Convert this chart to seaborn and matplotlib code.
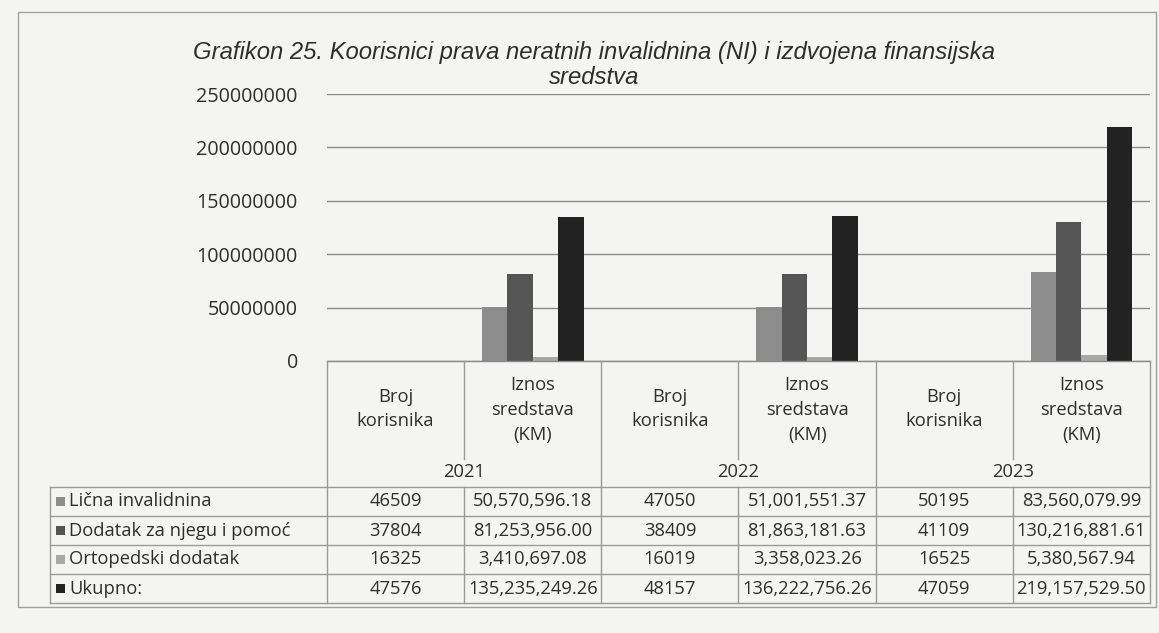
import numpy as np
import pandas as pd
import matplotlib
matplotlib.use("Agg")
import matplotlib.pyplot as plt
from matplotlib.lines import Line2D
from matplotlib.patches import Rectangle
import seaborn as sns

# ---- data -------------------------------------------------------------
years = ["2021", "2022", "2023"]
measures = ["Broj\nkorisnika", "Iznos\nsredstava\n(KM)"]
series = ["Lična invalidnina", "Dodatak za njegu i pomoć", "Ortopedski dodatak", "Ukupno:"]

licna = [46509, 50570596.18, 47050, 51001551.37, 50195, 83560079.99]
dodatak = [37804, 81253956.00, 38409, 81863181.63, 41109, 130216881.61]
ortopedski = [16325, 3410697.08, 16019, 3358023.26, 16525, 5380567.94]
ukupno = [47576, 135235249.26, 48157, 136222756.26, 47059, 219157529.50]

yticks = [0, 50000000, 100000000, 150000000, 200000000, 250000000]
title_lines = ["Grafikon 25. Koorisnici prava neratnih invalidnina (NI) i izdvojena finansijska",
               "sredstva"]

colors = ["#8c8c8c", "#555555", "#a8a8a8", "#222222"]

# ---- long-form table for seaborn ----------------------------------------
cols = [f"{y}|{m}" for y in years for m in measures]
values = [licna, dodatak, ortopedski, ukupno]
df = pd.DataFrame(
    [(c, s, v) for s, vals in zip(series, values) for c, v in zip(cols, vals)],
    columns=["kolona", "serija", "vrijednost"],
)

def fmt_count(v):
    return f"{int(round(v))}"

def fmt_money(v):
    return f"{v:,.2f}"

# ---- figure -----------------------------------------------------------
W, H = 1159, 633
bg = "#f4f4f2"
ink = "#2e2e2e"
line_c = "#9a9a9a"

fig = plt.figure(figsize=(W / 100, H / 100), dpi=100, facecolor=bg)

def fx(px):
    return px / W

def fy(py):
    return 1 - py / H

ax_l, ax_r, ax_t, ax_b = 327, 1150, 94, 361
ax = fig.add_axes([fx(ax_l), fy(ax_b), fx(ax_r - ax_l), fy(ax_t) - fy(ax_b)])
ax.set_facecolor(bg)

sns.barplot(
    data=df, x="kolona", y="vrijednost", hue="serija", order=cols,
    hue_order=series, palette=colors, saturation=1, width=0.74,
    legend=False, ax=ax, linewidth=0,
)
ax.set_xlim(-0.5, len(cols) - 0.5)
ax.set_ylim(0, yticks[-1])
ax.set_yticks(yticks)
ax.set_yticklabels([str(t) for t in yticks], fontfamily="Open Sans",
                   fontsize=14.2, color=ink)
ax.tick_params(axis="y", length=0, pad=21)
ax.set_xticks([])
ax.set_xlabel("")
ax.set_ylabel("")
ax.yaxis.grid(True, color="#8a8a8a", linewidth=1.0)
ax.set_axisbelow(True)
for s in ["top", "right", "left"]:
    ax.spines[s].set_visible(False)
ax.spines["bottom"].set_color("#8a8a8a")
ax.spines["bottom"].set_linewidth(1.0)

# ---- title (two centred lines) ---------------------------------------------
title_font = dict(ha="center", va="center", fontsize=17.2, fontstyle="italic",
                  family="Liberation Sans", color=ink)
fig.text(fx(594), fy(52), title_lines[0], **title_font)
fig.text(fx(594), fy(78), title_lines[1], **title_font)

# ---- data table beneath the axes ------------------------------------------
def hline(x0, x1, y, **kw):
    fig.add_artist(Line2D([fx(x0), fx(x1)], [fy(y), fy(y)], color=line_c,
                          linewidth=1.0, **kw))

def vline(x, y0, y1, **kw):
    fig.add_artist(Line2D([fx(x), fx(x)], [fy(y0), fy(y1)], color=line_c,
                          linewidth=1.0, **kw))

ncol = len(cols)
cw = (ax_r - ax_l) / ncol
bounds = [ax_l + i * cw for i in range(ncol + 1)]
lab_l = 50
row_top = 487
row_h = 29
tbl_font = dict(family="Open Sans", fontsize=13.2, color=ink)

# header: measure names and years
for i, c in enumerate(cols):
    y, m = c.split("|")
    cx = (bounds[i] + bounds[i + 1]) / 2
    cy = 409 if m.startswith("Broj") else 410
    fig.text(fx(cx), fy(cy), m, ha="center", va="center", linespacing=1.5,
             **tbl_font)
for j, yr in enumerate(years):
    cx = (bounds[2 * j] + bounds[2 * j + 2]) / 2
    fig.text(fx(cx), fy(472), yr, ha="center", va="center", **tbl_font)

# grid of the table
for j in range(len(years) + 1):
    vline(bounds[2 * j], ax_b, row_top + 4 * row_h)
for j in range(len(years)):
    vline(bounds[2 * j + 1], ax_b, 459)
    vline(bounds[2 * j + 1], row_top, row_top + 4 * row_h)
vline(lab_l, row_top, row_top + 4 * row_h)
for k in range(5):
    hline(lab_l, ax_r, row_top + k * row_h)

# rows with legend keys
for k, (s, vals, col) in enumerate(zip(series, values, colors)):
    cy = row_top + k * row_h + row_h / 2
    fig.add_artist(Rectangle((fx(56), fy(cy + 4.5)), fx(9), fy(0) - fy(9),
                             facecolor=col, edgecolor="none",
                             transform=fig.transFigure))
    fig.text(fx(69), fy(cy), s, ha="left", va="center", **tbl_font)
    for i, v in enumerate(vals):
        cx = (bounds[i] + bounds[i + 1]) / 2
        txt = fmt_count(v) if i % 2 == 0 else fmt_money(v)
        fig.text(fx(cx), fy(cy), txt, ha="center", va="center", **tbl_font)

# outer frame of the chart area
fig.add_artist(Rectangle((fx(18), fy(607)), fx(1156 - 18), fy(12) - fy(607),
                         facecolor="none", edgecolor="#a0a0a0", linewidth=1.0,
                         transform=fig.transFigure))

fig.savefig("out.png", dpi=100, facecolor=bg)
